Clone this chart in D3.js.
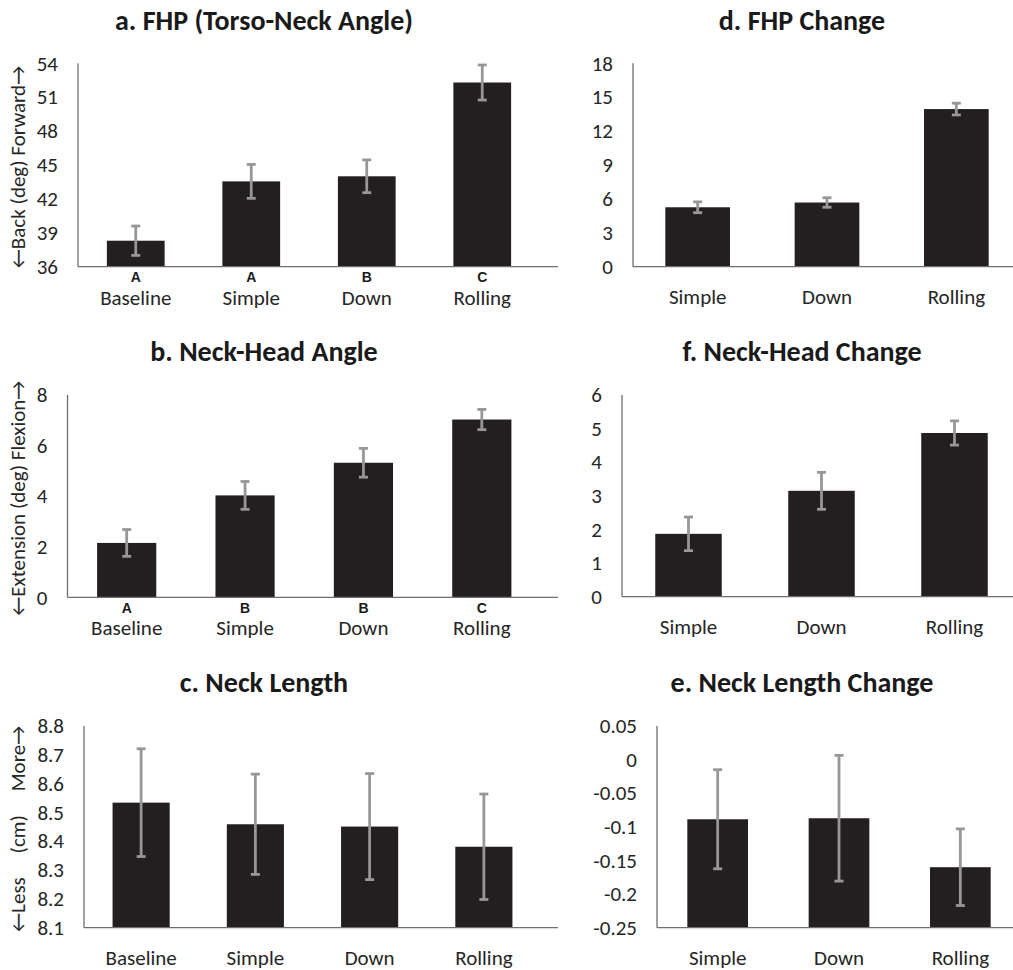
<!DOCTYPE html>
<html><head><meta charset="utf-8">
<script src="https://cdn.jsdelivr.net/npm/d3@7"></script>
<style>
body{margin:0;background:#fff}
svg text{font-family:Carlito,Lato,"Noto Sans",sans-serif;fill:#262626}
</style></head>
<body><svg id="chart" width="1013" height="970"></svg>
<script>
// ---------- data ----------
const catsFull = ["Baseline", "Simple", "Down", "Rolling"];
const catsChange = ["Simple", "Down", "Rolling"];

// a. FHP (Torso-Neck Angle)
const fhpMean = [38.3, 43.55, 44.0, 52.3];
const fhpErr = [1.3, 1.5, 1.45, 1.55];
const fhpLetters = ["A", "A", "B", "C"];
const fhpTicks = [36, 39, 42, 45, 48, 51, 54];

// b. Neck-Head Angle
const nhMean = [2.15, 4.03, 5.32, 7.03];
const nhErr = [0.53, 0.55, 0.57, 0.4];
const nhLetters = ["A", "B", "B", "C"];
const nhTicks = [0, 2, 4, 6, 8];

// c. Neck Length
const nlMean = [8.534, 8.459, 8.451, 8.381];
const nlErr = [0.187, 0.174, 0.184, 0.183];
const nlTicks = [8.1, 8.2, 8.3, 8.4, 8.5, 8.6, 8.7, 8.8];

// d. FHP Change
const fhpChMean = [5.26, 5.68, 13.95];
const fhpChErr = [0.48, 0.42, 0.52];
const fhpChTicks = [0, 3, 6, 9, 12, 15, 18];

// f. Neck-Head Change
const nhChMean = [1.87, 3.15, 4.87];
const nhChErr = [0.5, 0.55, 0.36];
const nhChTicks = [0, 1, 2, 3, 4, 5, 6];

// e. Neck Length Change
const nlChMean = [-0.0887, -0.0872, -0.160];
const nlChErr = [0.0737, 0.0935, 0.057];
const nlChTicks = [-0.25, -0.2, -0.15, -0.1, -0.05, 0, 0.05];
const nlChTickLabels = ["-0.25", "-0.2", "-0.15", "-0.1", "-0.05", "0", "0.05"];

// ---------- layout ----------
const panels = [
  {title: "a. FHP (Torso-Neck Angle)", cats: catsFull, mean: fhpMean, err: fhpErr, letters: fhpLetters,
   ticks: fhpTicks, x0: 78, x1: 540, lineEnd: 558, yTop: 63.3, yBot: 266.7, tx: 264, ty: 30,
   ylabel: "←Back (deg) Forward→"},
  {title: "b. Neck-Head Angle", cats: catsFull, mean: nhMean, err: nhErr, letters: nhLetters,
   ticks: nhTicks, x0: 67.5, x1: 541, lineEnd: 558, yTop: 395, yBot: 597.3, tx: 264, ty: 361,
   ylabel: "←Extension (deg) Flexion→"},
  {title: "c. Neck Length", cats: catsFull, mean: nlMean, err: nlErr, letters: null,
   ticks: nlTicks, x0: 84, x1: 541, lineEnd: 558, yTop: 726, yBot: 927.7, tx: 264, ty: 692,
   ylabel: "←Less     (cm)     More→"},
  {title: "d. FHP Change", cats: catsChange, mean: fhpChMean, err: fhpChErr, letters: null,
   ticks: fhpChTicks, x0: 633, x1: 1021, lineEnd: 1013, yTop: 63.3, yBot: 266.7, tx: 802, ty: 30},
  {title: "f. Neck-Head Change", cats: catsChange, mean: nhChMean, err: nhChErr, letters: null,
   ticks: nhChTicks, x0: 622, x1: 1021, lineEnd: 1013, yTop: 395, yBot: 596.7, tx: 802, ty: 361},
  {title: "e. Neck Length Change", cats: catsChange, mean: nlChMean, err: nlChErr, letters: null,
   ticks: nlChTicks, tickLabels: nlChTickLabels, x0: 657, x1: 1021, lineEnd: 1013, yTop: 726, yBot: 927.7, tx: 802, ty: 692}
];

const svg = d3.select("#chart");
const barColor = "#231f20", errColor = "#979797", axisColor = "#6e6e6e";

panels.forEach(p => {
  const g = svg.append("g");
  const x = d3.scaleBand().domain(p.cats).range([p.x0, p.x1]).paddingInner(0.5).paddingOuter(0.25);
  const y = d3.scaleLinear().domain(d3.extent(p.ticks)).range([p.yBot, p.yTop]);
  const base = d3.min(p.ticks);
  const cx = i => x(p.cats[i]) + x.bandwidth() / 2;

  // title
  g.append("text").attr("x", p.tx).attr("y", p.ty).attr("text-anchor", "middle")
    .style("font-size", "28px").style("font-weight", "bold").style("fill", "#1a1a1a").text(p.title);

  // bars
  g.selectAll("rect.bar").data(p.mean).join("rect")
    .attr("x", (d, i) => x(p.cats[i])).attr("width", x.bandwidth())
    .attr("y", d => y(d)).attr("height", d => y(base) - y(d))
    .attr("fill", barColor);

  // error bars
  const eb = g.selectAll("g.eb").data(p.mean).join("g");
  eb.append("line")
    .attr("x1", (d, i) => cx(i)).attr("x2", (d, i) => cx(i))
    .attr("y1", (d, i) => y(d + p.err[i])).attr("y2", (d, i) => y(d - p.err[i]));
  eb.append("line")
    .attr("x1", (d, i) => cx(i) - 4.5).attr("x2", (d, i) => cx(i) + 4.5)
    .attr("y1", (d, i) => y(d + p.err[i])).attr("y2", (d, i) => y(d + p.err[i]));
  eb.append("line")
    .attr("x1", (d, i) => cx(i) - 4.5).attr("x2", (d, i) => cx(i) + 4.5)
    .attr("y1", (d, i) => y(d - p.err[i])).attr("y2", (d, i) => y(d - p.err[i]));
  eb.selectAll("line").attr("stroke", errColor).attr("stroke-width", 2.8);

  // y axis
  const yAxis = d3.axisLeft(y).tickValues(p.ticks).tickSize(0).tickPadding(20)
    .tickFormat((d, i) => p.tickLabels ? p.tickLabels[i] : String(d));
  const ya = g.append("g").attr("transform", `translate(${p.x0},0)`).call(yAxis);
  ya.select(".domain").remove();
  ya.selectAll("text").style("font-size", "21px").style("font-family", "Carlito,Lato,sans-serif").attr("fill", "#262626");

  // axis lines
  g.append("line").attr("x1", p.x0).attr("x2", p.x0).attr("y1", p.yTop).attr("y2", p.yBot)
    .attr("stroke", axisColor).attr("stroke-width", 1.3);
  g.append("line").attr("x1", p.x0).attr("x2", p.lineEnd).attr("y1", p.yBot).attr("y2", p.yBot)
    .attr("stroke", axisColor).attr("stroke-width", 1.3);

  // x axis (category labels)
  const xAxis = d3.axisBottom(x).tickSize(0).tickPadding(0);
  const xa = g.append("g").attr("transform", `translate(0,${p.yBot})`).call(xAxis);
  xa.select(".domain").remove();
  xa.selectAll("text").attr("dy", null).attr("y", p.letters ? 38 : 37)
    .style("font-size", "21px").style("font-family", "Carlito,Lato,sans-serif").attr("fill", "#262626");

  // significance letters
  if (p.letters) {
    g.selectAll("text.letter").data(p.letters).join("text")
      .attr("x", (d, i) => cx(i)).attr("y", p.yBot + 15.5)
      .attr("text-anchor", "middle")
      .style("font-family", "'Liberation Sans',Arial,sans-serif").style("font-weight", "bold")
      .style("font-size", "14px").style("fill", "#1a1a1a").text(d => d);
  }

  // y label
  if (p.ylabel) {
    g.append("text").attr("transform", `translate(25,${(p.yTop + p.yBot) / 2 + 2}) rotate(-90)`)
      .attr("text-anchor", "middle").style("font-size", "21px").style("white-space", "pre")
      .attr("xml:space", "preserve").text(p.ylabel);
  }
});
</script></body></html>
